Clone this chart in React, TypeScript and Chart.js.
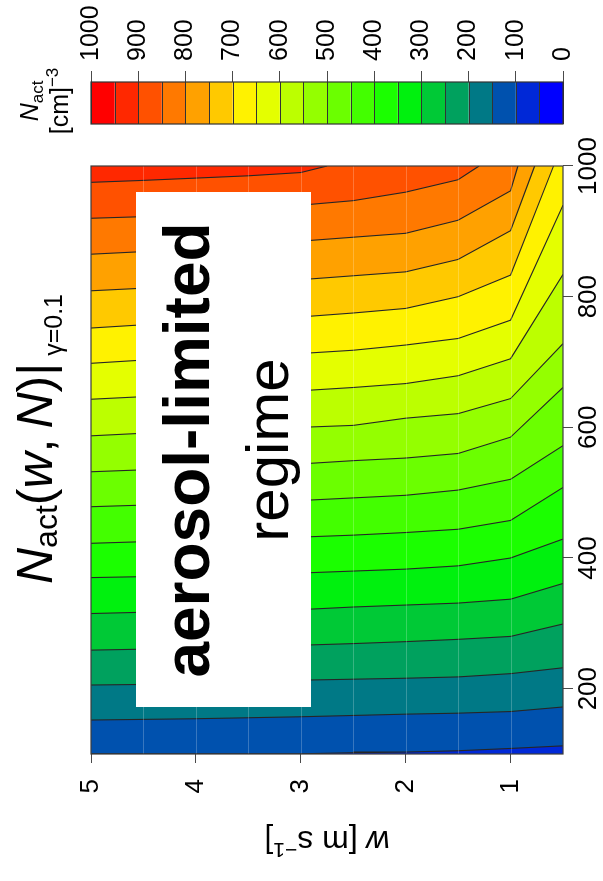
import { useEffect, useRef } from 'react';
import { Chart, registerables } from 'chart.js';

Chart.register(...registerables);

const FONT = '"Liberation Sans", Arial, Helvetica, sans-serif';

// axis ranges
const N_MIN = 100;
const N_MAX = 1000;
const W_MIN = 0.5;
const W_MAX = 5;

// tick values
const N_TICKS = [200, 400, 600, 800, 1000];
const W_TICKS = [1, 2, 3, 4, 5];
const W_GRID = [1, 1.5, 2, 2.5, 3, 3.5, 4, 4.5];
const CB_TICKS = [0, 100, 200, 300, 400, 500, 600, 700, 800, 900, 1000];
const BAND_EDGES = [0, 50, 100, 150, 200, 250, 300, 350, 400, 450, 500, 550, 600, 650, 700, 750, 800, 850, 900, 950, 1000];

// one colour per 50 cm^-3 band, blue -> green -> yellow -> red
const BAND_COLORS = [
  '#0000FF', '#0028D7', '#0051AE', '#007986', '#00A15E',
  '#00C936', '#00F10E', '#1BFF00', '#43FF00', '#6BFF00',
  '#94FF00', '#BCFF00', '#E4FF00', '#FFF200', '#FFC900',
  '#FFA100', '#FF7900', '#FF5100', '#FF2800', '#FF0000',
];

// updraft columns of the grid (m s^-1)
const W_COLS = [5, 4.5, 4, 3.5, 3, 2.5, 2, 1.5, 1, 0.5];

// contour levels of N_act (cm^-3)
const LEVELS = [100, 150, 200, 250, 300, 350, 400, 450, 500, 550, 600, 650, 700, 750, 800, 850, 900];

// N (cm^-3) where each level crosses each w column; null = beyond N = 1000
const N_100 = [100, 100, 100, 100.2, 101, 102, 103, 105, 108.5, 112.5];
const N_150 = [152, 153, 154, 155.5, 157, 159, 161, 162.5, 165, 172];
const N_200 = [205.6, 206.5, 208, 210, 213, 214.5, 216, 218, 223, 232];
const N_250 = [259, 260.5, 262, 264, 266.5, 269, 272, 275.5, 280, 299];
const N_300 = [315, 317, 318.5, 319.5, 321, 325, 328, 331, 337, 361];
const N_350 = [370, 371.5, 373, 375, 377, 380, 383, 388, 400, 429];
const N_400 = [422.5, 425, 427, 429.5, 432, 435, 439, 444, 457.5, 508];
const N_450 = [478.5, 481, 483, 485.5, 488, 492, 496, 504, 520.5, 572];
const N_500 = [532, 535, 537.5, 540.5, 544, 549, 553, 560, 585, 661];
const N_550 = [587, 591, 593.5, 596.5, 600, 603, 614, 621, 644, 728];
const N_600 = [643, 647, 649.5, 652.5, 656, 661, 667, 679, 705, 834];
const N_650 = [698, 703, 705, 709, 713, 718, 726, 736, 764, 940];
const N_700 = [752, 757, 760, 764, 769, 775, 782, 800, 833, null];
const N_750 = [809, 813, 816.5, 821, 826, 832, 838, 857, 901, null];
const N_800 = [865, 869, 873, 878, 885, 891, 897, 917, 962, null];
const N_850 = [920, 922.5, 927, 932, 940, 947, 960, 979, null, null];
const N_900 = [975, 978, 981.5, 985, 990, null, null, null, null, null];

const CONTOUR_N = [N_100, N_150, N_200, N_250, N_300, N_350, N_400, N_450, N_500, N_550, N_600, N_650, N_700, N_750, N_800, N_850, N_900];

// w (m s^-1) where a level leaves the panel through N = 1000
const EXIT_W = [null, null, null, null, null, null, null, null, null, null, null, null, 0.59, 0.77, 0.93, 1.3, 2.75];

function contourPoints(i: number) {
  const pts: { x: number; y: number }[] = [];
  CONTOUR_N[i].forEach((n, j) => {
    if (n !== null) pts.push({ x: n as number, y: W_COLS[j] });
  });
  const e = EXIT_W[i];
  if (e !== null) pts.push({ x: N_MAX, y: e as number });
  return pts;
}

type Seg = { t: string; font: string; dy?: number };

function drawRich(ctx: CanvasRenderingContext2D, segs: Seg[], cx: number, baseline: number) {
  const widths = segs.map((s) => {
    ctx.font = s.font;
    return ctx.measureText(s.t).width;
  });
  const total = widths.reduce((a, b) => a + b, 0);
  let x = cx - total / 2;
  segs.forEach((s, i) => {
    ctx.font = s.font;
    ctx.fillText(s.t, x, baseline + (s.dy || 0));
    x += widths[i];
  });
}

const decorations = {
  id: 'decorations',
  beforeDatasetsDraw(chart: any) {
    const { ctx, chartArea: a } = chart;
    ctx.save();
    ctx.fillStyle = BAND_COLORS[LEVELS[0] / 50 - 1];
    ctx.fillRect(a.left, a.top, a.right - a.left, a.bottom - a.top);
    ctx.restore();
  },
  afterDatasetsDraw(chart: any) {
    const { ctx, chartArea: a, scales } = chart;
    const yS = scales.y;
    const cb = scales.cb;
    ctx.save();

    // faint grid over the filled contours
    ctx.strokeStyle = 'rgba(255,255,255,0.22)';
    ctx.lineWidth = 1;
    W_GRID.forEach((w) => {
      const py = Math.round(yS.getPixelForValue(w)) + 0.5;
      ctx.beginPath();
      ctx.moveTo(a.left, py);
      ctx.lineTo(a.right, py);
      ctx.stroke();
    });

    // panel frame
    ctx.strokeStyle = '#3c3c3c';
    ctx.lineWidth = 1.2;
    ctx.strokeRect(a.left, a.top, a.right - a.left, a.bottom - a.top);

    // regime label box
    ctx.fillStyle = '#ffffff';
    ctx.fillRect(174, 136, 515, 175);
    ctx.fillStyle = '#000000';
    ctx.textAlign = 'center';
    ctx.textBaseline = 'alphabetic';
    ctx.font = `bold 64px ${FONT}`;
    ctx.fillText('aerosol-limited', 431, 209);
    ctx.font = `60px ${FONT}`;
    ctx.fillText('regime', 431, 288);

    // title
    ctx.textAlign = 'left';
    drawRich(ctx, [
      { t: 'N', font: `italic 50px ${FONT}` },
      { t: 'act', font: `32px ${FONT}`, dy: 5 },
      { t: '(', font: `50px ${FONT}` },
      { t: 'w', font: `italic 50px ${FONT}` },
      { t: ',\u2009', font: `50px ${FONT}` },
      { t: 'N', font: `italic 50px ${FONT}` },
      { t: ')', font: `50px ${FONT}` },
      { t: '|', font: `50px ${FONT}` },
      { t: ' \u03B3=0.1', font: `25px ${FONT}`, dy: 10 },
    ], 442, 52);

    // y-axis title, written bottom to top
    ctx.save();
    ctx.translate(50, (a.top + a.bottom) / 2);
    ctx.rotate(-Math.PI / 2);
    drawRich(ctx, [
      { t: 'w', font: `italic 32px ${FONT}` },
      { t: ' [m s', font: `32px ${FONT}` },
      { t: '\u22121', font: `21px ${FONT}`, dy: -12 },
      { t: ']', font: `32px ${FONT}` },
    ], 0, 0);
    ctx.restore();

    // colour bar
    const cbRight = cb.left;
    const cbLeft = cb.left - 42;
    for (let i = 0; i < BAND_COLORS.length; i++) {
      const top = cb.getPixelForValue(BAND_EDGES[i + 1]);
      const bottom = cb.getPixelForValue(BAND_EDGES[i]);
      ctx.fillStyle = BAND_COLORS[i];
      ctx.fillRect(cbLeft, top, cbRight - cbLeft, bottom - top);
    }
    ctx.strokeStyle = '#333333';
    ctx.lineWidth = 1;
    BAND_EDGES.forEach((v) => {
      const py = Math.round(cb.getPixelForValue(v)) + 0.5;
      ctx.beginPath();
      ctx.moveTo(cbLeft, py);
      ctx.lineTo(cbRight, py);
      ctx.stroke();
    });
    ctx.lineWidth = 1.2;
    ctx.strokeRect(cbLeft, cb.getPixelForValue(1000), cbRight - cbLeft, cb.getPixelForValue(0) - cb.getPixelForValue(1000));

    // colour bar title
    ctx.fillStyle = '#000000';
    const cbMid = (cbLeft + cbRight) / 2 + 2;
    drawRich(ctx, [
      { t: 'N', font: `italic 25px ${FONT}` },
      { t: 'act', font: `17px ${FONT}`, dy: 5 },
    ], cbMid, 38);
    drawRich(ctx, [
      { t: '[cm]', font: `25px ${FONT}` },
      { t: '\u22123', font: `17px ${FONT}`, dy: -10 },
    ], cbMid, 68);

    ctx.restore();
  },
};

const plainLabel = (v: any) => String(v);

export default function App() {
  const canvasRef = useRef<HTMLCanvasElement | null>(null);

  useEffect(() => {
    const canvas = canvasRef.current;
    if (!canvas) return;

    const datasets = LEVELS.map((lvl, i) => ({
      label: String(lvl),
      data: contourPoints(i),
      xAxisID: 'x',
      yAxisID: 'y',
      borderColor: '#262626',
      borderWidth: 1.1,
      backgroundColor: BAND_COLORS[lvl / 50],
      fill: { value: N_MAX },
      pointRadius: 0,
      tension: 0,
    })).reverse();

    const tickGrid = (len: number) => ({
      drawOnChartArea: false,
      drawTicks: true,
      tickLength: len,
      color: '#4a4a4a',
      lineWidth: 1,
    });

    const chart = new Chart(canvas, {
      type: 'line',
      data: { datasets: datasets as any },
      options: {
        indexAxis: 'y',
        animation: false,
        responsive: false,
        devicePixelRatio: 1,
        events: [],
        layout: { padding: { left: 0, right: 0, top: 91, bottom: 0 } },
        plugins: {
          legend: { display: false },
          tooltip: { enabled: false },
          filler: { propagate: false },
        },
        scales: {
          x: {
            type: 'linear',
            position: 'bottom',
            min: N_MIN,
            max: N_MAX,
            afterBuildTicks: (s: any) => { s.ticks = N_TICKS.map((v) => ({ value: v })); },
            afterFit: (s: any) => { s.height = 40; },
            grid: tickGrid(10),
            border: { display: false },
            ticks: {
              font: { size: 26, family: FONT },
              color: '#000',
              padding: 0,
              autoSkip: false,
              maxRotation: 0,
              minRotation: 0,
              callback: plainLabel,
            },
          },
          y: {
            type: 'linear',
            position: 'left',
            min: W_MIN,
            max: W_MAX,
            afterBuildTicks: (s: any) => { s.ticks = W_TICKS.map((v) => ({ value: v })); },
            afterFit: (s: any) => { s.width = 127; },
            grid: tickGrid(9),
            border: { display: false },
            ticks: { font: { size: 26, family: FONT }, color: '#000', padding: 16, callback: plainLabel },
          },
          gap: {
            type: 'linear',
            axis: 'y',
            position: 'right',
            weight: 0,
            min: 0,
            max: 1,
            afterFit: (s: any) => { s.width = 84; },
            grid: { display: false },
            border: { display: false },
            ticks: { display: false },
          },
          cb: {
            type: 'linear',
            axis: 'y',
            position: 'right',
            weight: 1,
            min: 0,
            max: 1000,
            afterBuildTicks: (s: any) => { s.ticks = CB_TICKS.map((v) => ({ value: v })); },
            afterFit: (s: any) => { s.width = 82; },
            grid: tickGrid(11),
            border: { display: false },
            ticks: { font: { size: 25, family: FONT }, color: '#000', padding: 10, callback: plainLabel },
          },
        } as any,
      },
      plugins: [decorations],
    });

    return () => chart.destroy();
  }, []);

  return (
    <div style={{ position: 'absolute', left: 0, top: 0, width: 603, height: 881, overflow: 'hidden', background: '#ffffff' }}>
      <div
        style={{
          position: 'absolute',
          left: 0,
          top: 0,
          width: 881,
          height: 603,
          transformOrigin: '0 0',
          transform: 'translate(0px, 881px) rotate(-90deg)',
        }}
      >
        <canvas ref={canvasRef} width={881} height={603} style={{ display: 'block', width: 881, height: 603 }} />
      </div>
    </div>
  );
}
